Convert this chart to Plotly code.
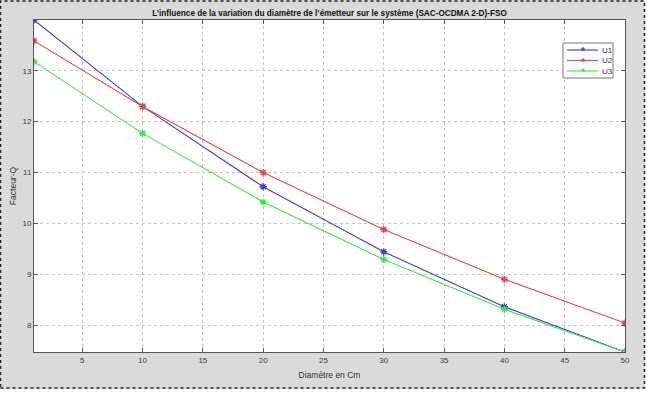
import plotly.graph_objects as go

diametre = [1, 10, 20, 30, 40, 50]
u1 = [14.00, 12.30, 10.72, 9.44, 8.36, 7.47]
u2 = [13.59, 12.30, 11.00, 9.88, 8.90, 8.04]
u3 = [13.18, 11.77, 10.42, 9.29, 8.31, 7.47]
series_names = ["U1", "U2", "U3"]
series_colors = ["#3a3ae6", "#e64646", "#3ee63e"]
x_ticks = [5, 10, 15, 20, 25, 30, 35, 40, 45, 50]
y_ticks = [8, 9, 10, 11, 12, 13]

W, H = 648, 405
L, R, T, B = 34, 625, 20, 352
FONT = "Liberation Sans, Arial"

fig = go.Figure()
for name, ys, col in zip(series_names, [u1, u2, u3], series_colors):
    fig.add_trace(go.Scatter(
        x=diametre, y=ys, name=name, mode="lines+markers",
        line=dict(color=col, width=1.1),
        marker=dict(symbol="asterisk-open", size=6, line=dict(color=col, width=1.3)),
        showlegend=False,
    ))

def px_x(p):
    return (p - L) / (R - L)

def px_y(p):
    return (B - p) / (B - T)

shapes = [
    dict(type="rect", xref="paper", yref="paper", layer="above",
         x0=px_x(0), x1=px_x(W), y0=px_y(H), y1=px_y(389), fillcolor="white", line=dict(width=0)),
    dict(type="rect", xref="paper", yref="paper", layer="above",
         x0=px_x(645), x1=px_x(W), y0=px_y(H), y1=px_y(0), fillcolor="white", line=dict(width=0)),
    dict(type="rect", xref="paper", yref="paper", layer="above",
         x0=px_x(0.5), x1=px_x(644.5), y0=px_y(388), y1=px_y(1), fillcolor="rgba(0,0,0,0)",
         line=dict(color="#222222", width=1.5, dash="dot")),
]
annotations = []

# compact MATLAB-style legend box
LG_X0, LG_X1, LG_Y0, LG_Y1 = 563, 613, 43, 78
shapes.append(dict(type="rect", xref="paper", yref="paper", layer="above",
                   x0=px_x(LG_X0), x1=px_x(LG_X1), y0=px_y(LG_Y1), y1=px_y(LG_Y0),
                   fillcolor="white", line=dict(color="#777777", width=1)))
for i, (name, col) in enumerate(zip(series_names, series_colors)):
    yy = 50 + i * 10.5
    shapes.append(dict(type="line", xref="paper", yref="paper", layer="above",
                       x0=px_x(567), x1=px_x(598), y0=px_y(yy), y1=px_y(yy),
                       line=dict(color=col, width=1.1)))
    annotations.append(dict(xref="paper", yref="paper", x=px_x(582.5), y=px_y(yy + 1.5),
                            text="<b>*</b>", showarrow=False, xanchor="center", yanchor="middle",
                            font=dict(family=FONT, size=10, color=col)))
    annotations.append(dict(xref="paper", yref="paper", x=px_x(600), y=px_y(yy),
                            text=name, showarrow=False, xanchor="left", yanchor="middle",
                            font=dict(family=FONT, size=8, color="#333333")))

axis_common = dict(
    showline=True, linecolor="#555555", linewidth=1, mirror="ticks",
    ticks="inside", ticklen=4, tickcolor="#555555",
    showgrid=True, gridcolor="#c4c4c4", griddash="dot", gridwidth=1,
    zeroline=False, automargin=False,
    tickfont=dict(family=FONT, size=8, color="#404040"),
)

fig.update_layout(
    width=W, height=H,
    margin=dict(l=L, r=W - R, t=T, b=H - B, pad=0, autoexpand=False),
    paper_bgcolor="#dadada", plot_bgcolor="white",
    title=dict(text="<b>L’influence de la variation du diamètre de l’émetteur sur le système (SAC-OCDMA 2-D)-FSO</b>",
               x=px_x((L + R) / 2), xref="paper", xanchor="center", y=1 - 13 / H, yanchor="middle",
               automargin=False,
               font=dict(family=FONT, size=8.2, color="#111111")),
    xaxis=dict(range=[1, 50], tickvals=x_ticks,
               title=dict(text="Diamètre en Cm", standoff=8,
                          font=dict(family=FONT, size=8.5, color="#333333")),
               **axis_common),
    yaxis=dict(range=[7.47, 14.0], tickvals=y_ticks,
               title=dict(text="Facteur-Q", standoff=4,
                          font=dict(family=FONT, size=8.5, color="#333333")),
               **axis_common),
    showlegend=False,
    shapes=shapes,
    annotations=annotations,
)

fig.write_html("out.html", config={"displayModeBar": False},
               post_script="document.body.style.margin='0px';")
